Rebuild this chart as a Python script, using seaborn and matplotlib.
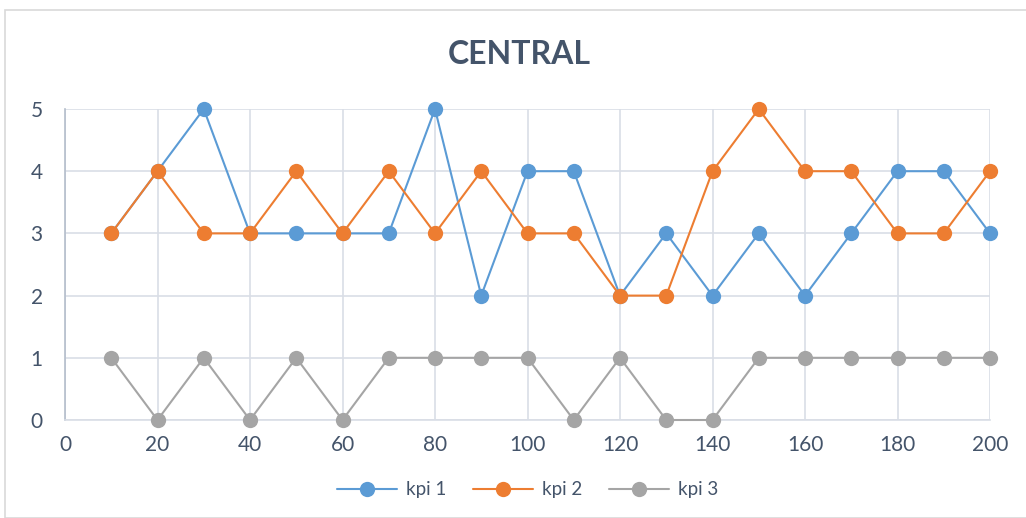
import matplotlib
matplotlib.use("Agg")
import matplotlib.pyplot as plt
import seaborn as sns
import pandas as pd
from matplotlib.patches import Rectangle

x_values = [10, 20, 30, 40, 50, 60, 70, 80, 90, 100,
            110, 120, 130, 140, 150, 160, 170, 180, 190, 200]
kpi1 = [3, 4, 5, 3, 3, 3, 3, 5, 2, 4, 4, 2, 3, 2, 3, 2, 3, 4, 4, 3]
kpi2 = [3, 4, 3, 3, 4, 3, 4, 3, 4, 3, 3, 2, 2, 4, 5, 4, 4, 3, 3, 4]
kpi3 = [1, 0, 1, 0, 1, 0, 1, 1, 1, 1, 0, 1, 0, 0, 1, 1, 1, 1, 1, 1]
series_names = ["kpi 1", "kpi 2", "kpi 3"]
x_ticks = [0, 20, 40, 60, 80, 100, 120, 140, 160, 180, 200]
y_ticks = [0, 1, 2, 3, 4, 5]

df = pd.DataFrame({
    "x": x_values * 3,
    "value": kpi1 + kpi2 + kpi3,
    "series": [s for s in series_names for _ in x_values],
})

sns.set_theme(style="white")
plt.rcParams["font.family"] = ["Lato", "DejaVu Sans"]

text_color = "#44546A"
grid_color = "#D9DEE6"
palette = {"kpi 1": "#5B9BD5", "kpi 2": "#ED7D31", "kpi 3": "#A5A5A5"}

fig = plt.figure(figsize=(10.26, 5.18), dpi=100)
ax = fig.add_axes([65 / 1026, 1 - 420 / 518, (990 - 65) / 1026, (420 - 109) / 518])

sns.lineplot(data=df, x="x", y="value", hue="series", palette=palette,
             marker="o", markersize=11, markeredgewidth=0, linewidth=1.5,
             ax=ax, clip_on=False, zorder=3)

ax.set_xlim(0, 200)
ax.set_ylim(0, 5)
ax.set_xticks(x_ticks)
ax.set_yticks(y_ticks)
ax.set_xlabel("")
ax.set_ylabel("")
ax.grid(True, color=grid_color, linewidth=1.2, zorder=0)
ax.set_axisbelow(True)
for side in ["top", "right"]:
    ax.spines[side].set_visible(False)
ax.spines["bottom"].set_color(grid_color)
ax.spines["bottom"].set_linewidth(1.2)
ax.spines["left"].set_color("#B4BDCB")
ax.spines["left"].set_linewidth(1.2)
ax.tick_params(axis="both", length=0, labelsize=15, labelcolor=text_color)
ax.tick_params(axis="x", pad=11)
ax.tick_params(axis="y", pad=16)

# Chart title centred on the whole chart area
fig.text(519 / 1026, 1 - 55 / 518, "CENTRAL", fontsize=23, fontweight="bold",
         color=text_color, ha="center", va="center")

handles, labels = ax.get_legend_handles_labels()
ax.legend(handles, labels, loc="center", bbox_to_anchor=(0.5, -0.225),
          ncol=3, frameon=False, fontsize=13.5, labelcolor=text_color,
          handlelength=3.2, columnspacing=1.4, handletextpad=0.5)

fig.patches.append(Rectangle((5 / 1026, 0), 1.2, 1 - 10 / 518,
                             transform=fig.transFigure, fill=False,
                             edgecolor="#D9D9D9", linewidth=1.2))

fig.savefig("out.png", dpi=100, facecolor="white")
